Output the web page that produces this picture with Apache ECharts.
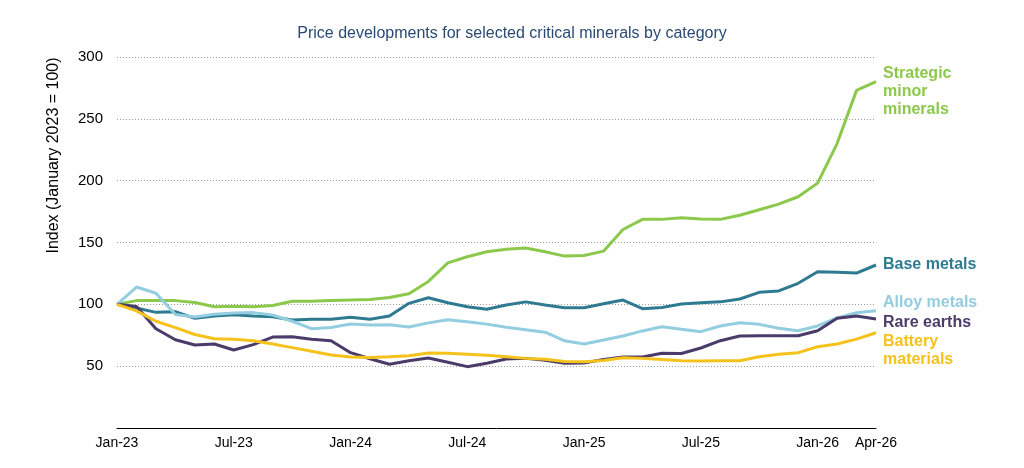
<!DOCTYPE html>
<html>
<head>
<meta charset="utf-8">
<script src="https://cdn.jsdelivr.net/npm/echarts@6/dist/echarts.min.js"></script>
<style>html,body{margin:0;padding:0;background:#fff}#chart{width:1024px;height:468px}</style>
</head>
<body>
<div id="chart"></div>
<script>
const categories = ['Jan-23','Feb-23','Mar-23','Apr-23','May-23','Jun-23','Jul-23','Aug-23','Sep-23','Oct-23','Nov-23','Dec-23',
  'Jan-24','Feb-24','Mar-24','Apr-24','May-24','Jun-24','Jul-24','Aug-24','Sep-24','Oct-24','Nov-24','Dec-24',
  'Jan-25','Feb-25','Mar-25','Apr-25','May-25','Jun-25','Jul-25','Aug-25','Sep-25','Oct-25','Nov-25','Dec-25',
  'Jan-26','Feb-26','Mar-26','Apr-26'];
const shownLabels = ['Jan-23','Jul-23','Jan-24','Jul-24','Jan-25','Jul-25','Jan-26','Apr-26'];
const strategicMinor = [100,103,103,103,101.5,98,98.5,98,99,102.5,102.5,103,103.5,104,105.5,108.5,118.5,133.5,138.5,142.5,144.5,145.5,142.5,139,139.5,143,160.5,168.7,168.7,170,169,168.7,172,176.5,181,187,198,230,273,280];
const baseMetals = [100,97,93.5,94,88.7,90.5,91.5,90.5,90,87.3,88,88,89.5,88,90.5,100.8,105.3,101.3,98,96,99.4,102,99.4,97.3,97.3,100.5,103.5,96.5,97.5,100.2,101.3,102,104.3,109.7,110.8,117,126.4,126,125.3,131.8];
const alloyMetals = [100,114,109,91.7,89.8,92,93,93.3,91.4,86.3,80.3,81.2,84.1,83.3,83.5,81.7,85,87.5,86,84,81.5,79.5,77.5,70.5,67.9,71.1,74.4,78.5,81.9,79.8,77.9,82.5,85.1,83.8,80.6,78.7,82.5,89,93.2,94.8];
const rareEarths = [100,98.3,80.3,71.4,67.1,67.9,63.1,67.4,73.5,73.8,71.7,70.6,60.9,56,51.6,54.3,56.6,53.2,49.6,52.3,55.8,56.3,54.7,52.3,52.5,55.5,57.4,57.4,60.4,60.2,64.7,70.6,74.4,74.6,74.6,74.6,78.7,88.7,90.5,88.1];
const batteryMaterials = [100,94.7,86.3,81.2,75.6,72.2,71.8,70.5,67.9,65,62,59,57.4,57.1,57.6,58.5,60.6,60.4,59.7,58.9,57.6,56.3,55.5,53.8,53.6,54.6,56.8,56.3,55.3,54.4,54.2,54.4,54.4,57.6,59.6,60.9,65.7,67.9,71.9,77];
const yTicks = [50,100,150,200,250,300];

const seriesDefs = [
  {name:'Strategic\nminor\nminerals', data:strategicMinor, color:'#8cc84b', off:[0,10]},
  {name:'Base metals', data:baseMetals, color:'#2e7b91', off:[0,0]},
  {name:'Alloy metals', data:alloyMetals, color:'#93cde0', off:[0,-8]},
  {name:'Rare earths', data:rareEarths, color:'#4b3b6b', off:[0,4]},
  {name:'Battery\nmaterials', data:batteryMaterials, color:'#f5c21b', off:[0,18]}
];

const chart = echarts.init(document.getElementById('chart'), null, {renderer:'canvas'});
chart.setOption({
  animation:false,
  backgroundColor:'#fff',
  title:{text:'Price developments for selected critical minerals by category', left:'center', top:21,
    textStyle:{fontFamily:'Liberation Sans, Arial, sans-serif', fontSize:16, fontWeight:'normal', color:'#2b4a73'}},
  grid:{left:117, right:148, top:57, bottom:40},
  xAxis:{type:'category', data:categories, boundaryGap:false,
    axisLine:{lineStyle:{color:'#000', width:1}}, axisTick:{show:false},
    axisLabel:{interval:(i, v) => shownLabels.includes(v), margin:8, color:'#000', fontSize:14, fontFamily:'Liberation Sans, Arial, sans-serif'},
    splitLine:{show:false}},
  yAxis:{type:'value', min:0, max:300, interval:50,
    name:'Index (January 2023 = 100)', nameLocation:'middle', nameGap:55, nameRotate:90,
    nameTextStyle:{fontFamily:'Liberation Sans, Arial, sans-serif', fontSize:16, color:'#000', padding:[0,0,0,174]},
    axisLine:{show:false}, axisTick:{show:false},
    axisLabel:{margin:14, color:'#000', fontSize:15, fontFamily:'Liberation Sans, Arial, sans-serif',
      formatter:v => yTicks.includes(v) ? String(v) : ''},
    splitLine:{lineStyle:{color:'#9a9a9a', type:[1,2], width:1}}},
  series: seriesDefs.map(s => ({
    type:'line', name:s.name, data:s.data, symbol:'none', smooth:false,
    lineStyle:{color:s.color, width:3}, itemStyle:{color:s.color},
    endLabel:{show:true, formatter:s.name, color:s.color, fontSize:16, fontWeight:'bold', lineHeight:18,
      fontFamily:'Liberation Sans, Arial, sans-serif', distance:7, offset:s.off, align:'left'}
  }))
});
</script>
</body>
</html>
